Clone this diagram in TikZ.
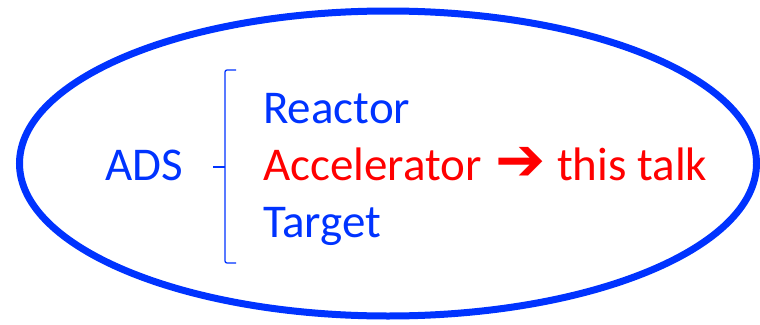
\documentclass[tikz,border=0pt]{standalone}
\usepackage{fontspec}
\setmainfont{Carlito}
\newfontfamily\symfont{DejaVu Sans}
\usetikzlibrary{positioning}
\definecolor{ablue}{HTML}{0033FF}
\definecolor{ared}{HTML}{FF0000}
\tikzset{
 item/.style={inner sep=0pt,anchor=base west,font=\fontsize{47}{56}\selectfont},
 blueitem/.style={item,text=ablue},
 reditem/.style={item,text=ared},
 ring/.style={draw=ablue,line width=7pt},
 brace/.style={draw=ablue,line width=1.3pt,rounded corners=2pt}
}
\begin{document}
\begin{tikzpicture}[x=1pt,y=-1pt]
 \useasboundingbox (0,0) rectangle (760,324);
 \draw[ring] (388,163.5) ellipse [x radius=368.5pt,y radius=152.5pt];
 \node[blueitem] (ads) at (105,180) {ADS};
 \node[blueitem] (reac) at (263,123) {Reactor};
 \node[reditem] (acc) at (263,180) {Accelerator};
 \node[blueitem] (targ) at (263,237) {Target};
 \node[inner sep=0pt,text=ared,font=\symfont\fontsize{60}{60}\selectfont,right=13pt of acc] (arr) {➔};
 \node[reditem] (talk) at (557,180) {this talk};
 % brace between ADS and the list
 \draw[brace] (236,70) -| (225,167) |- (236,263);
 \draw[brace,line width=2pt] (225,167) -- (213,167);
\end{tikzpicture}
\end{document}
